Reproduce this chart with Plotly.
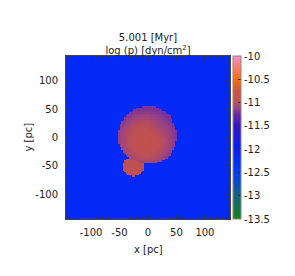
import numpy as np
import plotly.graph_objects as go

# ---- data ----
time_myr = "5.001"
field_range = [-13.5, -10.0]          # log p colour limits
background_level = -12.2              # ambient medium
core_level = -10.95                   # bubble centre (reddish)
rim_level = -11.2                     # bubble edge (purple tint)
# main bubble outline (pc), traced clockwise from the top
outline_x = [-4.7, 12.8, 27.5, 39.0, 45.0, 50.9, 49.0, 45.0, 36.3, 18.7,
             -4.7, -16.4, -31.0, -42.7, -51.4, -53.2, -48.5, -39.8, -25.1]
outline_y = [56.0, 54.4, 47.4, 38.6, 24.0, 9.4, -5.3, -19.9, -34.5, -43.3,
             -46.2, -43.3, -37.4, -28.7, -11.0, 6.4, 24.0, 38.6, 50.3]
core_center = [-5.0, -5.0]
# small secondary bubble (ellipse)
small_center = [-26.5, -51.0]
small_radii = [19.0, 16.5]
small_level = -10.97
extent = 144.0
n_cells = 110
cbar_ticks = [-10, -10.5, -11, -11.5, -12, -12.5, -13, -13.5]
axis_ticks = [-100, -50, 0, 50, 100]

xs = np.linspace(-extent, extent, n_cells)
ys = np.linspace(-extent, extent, n_cells)
X, Y = np.meshgrid(xs, ys)
Z = np.full(X.shape, background_level)

# point-in-polygon (ray casting)
px = np.array(outline_x)
py = np.array(outline_y)
inside = np.zeros(X.shape, dtype=bool)
n = len(px)
for i in range(n):
    j = (i - 1) % n
    xi, yi, xj, yj = px[i], py[i], px[j], py[j]
    cond = ((yi > Y) != (yj > Y)) & (X < (xj - xi) * (Y - yi) / (yj - yi + 1e-12) + xi)
    inside ^= cond

dx = X - core_center[0]
dy = Y - core_center[1]
t = np.clip(np.hypot(dx, dy) / 56.0, 0, 1)
tint = np.clip((X + Y - 5) / 60.0, 0, 1)
val = core_level + (rim_level - core_level) * np.clip(np.maximum(t ** 2, tint * 0.9), 0, 1)
Z[inside] = val[inside]

es = ((X - small_center[0]) / small_radii[0]) ** 2 + ((Y - small_center[1]) / small_radii[1]) ** 2
Z[(es < 1) & ~inside] = small_level

colorscale = [
    [0.0, "rgb(20,130,20)"],
    [0.143, "rgb(20,100,130)"],
    [0.286, "rgb(0,60,250)"],
    [0.43, "rgb(8,30,245)"],
    [0.571, "rgb(55,20,200)"],
    [0.64, "rgb(105,40,165)"],
    [0.68, "rgb(150,65,135)"],
    [0.714, "rgb(190,80,85)"],
    [0.79, "rgb(210,85,60)"],
    [0.857, "rgb(250,110,10)"],
    [1.0, "rgb(250,140,200)"],
]

fnt = dict(size=10, color="#222", family="DejaVu Sans")

fig = go.Figure(go.Heatmap(
    x=xs, y=ys, z=Z, zmin=field_range[0], zmax=field_range[1],
    colorscale=colorscale, zsmooth=False,
    colorbar=dict(
        x=1.018, xanchor="left", xpad=0, ypad=0, thickness=8,
        len=1, lenmode="fraction", y=0.5, yanchor="middle",
        outlinecolor="#888", outlinewidth=1,
        tickvals=cbar_ticks,
        ticktext=[f"{v:g}" for v in cbar_ticks],
        ticks="inside", ticklen=3, tickcolor="#333",
        tickfont=fnt,
    ),
))

axis_common = dict(
    range=[-extent, extent], ticks="inside", ticklen=4, tickcolor="#333",
    tickvals=axis_ticks, ticktext=[f"{v:g}" for v in axis_ticks],
    mirror="ticks", showline=True,
    linecolor="#444", linewidth=1, showgrid=False, zeroline=False,
    minor=dict(ticks="inside", ticklen=2, dtick=10, tickcolor="#333", showgrid=False),
    tickfont=fnt,
)

# page body adds an 8px offset; compensate so the plot sits where the reference has it
W, H = 287, 268
fig.update_layout(
    width=W, height=H,
    margin=dict(l=58, r=65, t=48, b=57),
    paper_bgcolor="white", plot_bgcolor="white",
    title=dict(
        text=f"{time_myr} [Myr]<br>log (p) [dyn/cm<sup>2</sup>]",
        x=140 / W, xanchor="center", xref="container",
        y=1 - 33 / H, yanchor="bottom", yref="container",
        font=fnt,
    ),
    xaxis=dict(axis_common, ticklabelstandoff=4),
    yaxis=dict(axis_common, ticklabelstandoff=5),
    annotations=[
        dict(text="x [pc]", xref="paper", yref="paper", x=0.5, y=-30 / 163,
             xanchor="center", yanchor="middle", showarrow=False, font=fnt),
        dict(text="y [pc]", xref="paper", yref="paper", x=-38 / 164, y=0.5,
             xanchor="center", yanchor="middle", textangle=-90, showarrow=False, font=fnt),
    ],
)

fig.write_html("out.html")
